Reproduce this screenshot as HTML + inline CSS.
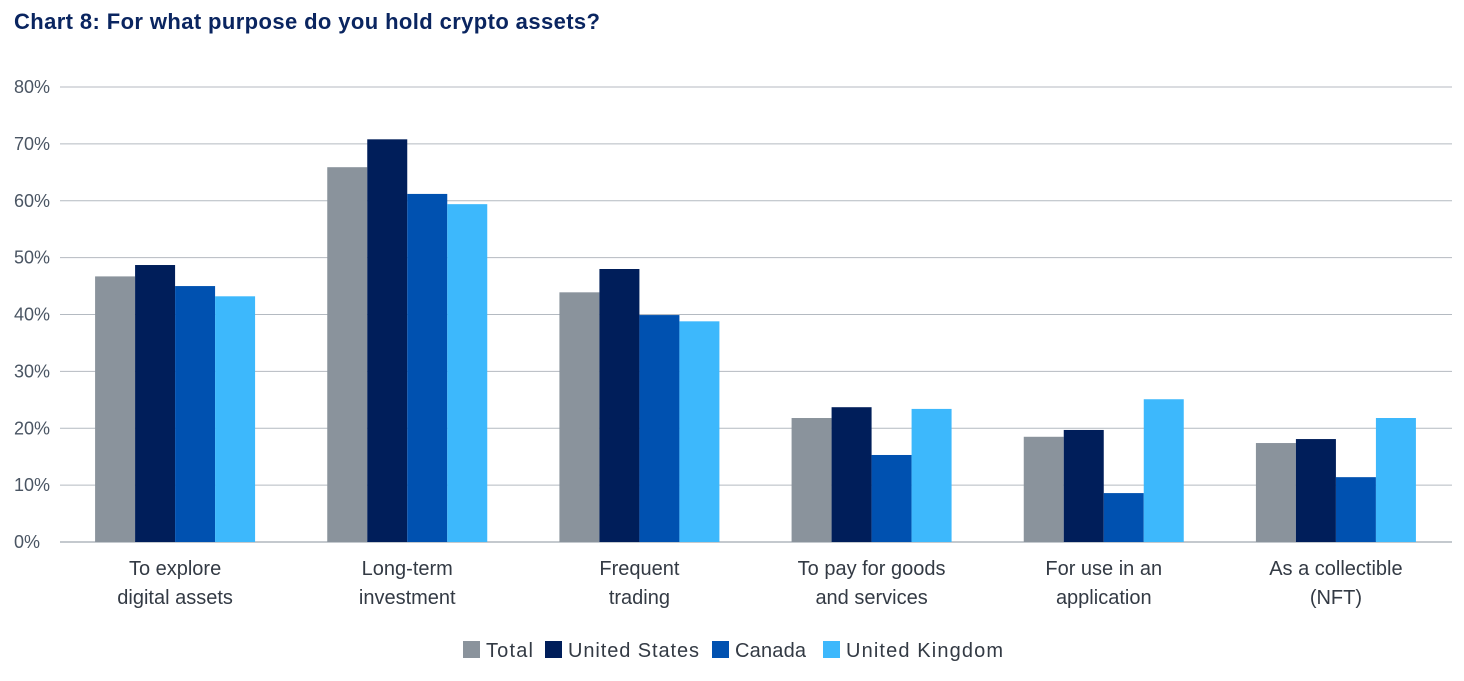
<!DOCTYPE html>
<html><head><meta charset="utf-8"><style>
body{margin:0;background:#fff;width:1464px;height:676px;overflow:hidden;font-family:"Liberation Sans",sans-serif}
</style></head><body>
<svg id="chart" width="1464" height="676" xmlns="http://www.w3.org/2000/svg">
<text x="14" y="29" font-size="22" font-weight="bold" fill="#0a2560" font-family="Liberation Sans, sans-serif" textLength="586" lengthAdjust="spacing">Chart 8: For what purpose do you hold crypto assets?</text>
<g id="grid"></g><g id="bars"></g><g id="xlabels"></g><g id="legend"></g>
</svg>
<script>
const categories=[["To explore","digital assets"],["Long-term","investment"],["Frequent","trading"],["To pay for goods","and services"],["For use in an","application"],["As a collectible","(NFT)"]];
const seriesNames=["Total","United States","Canada","United Kingdom"];
const total=[46.7,65.9,43.9,21.8,18.5,17.4];
const us=[48.7,70.8,48.0,23.7,19.7,18.1];
const canada=[45.0,61.2,39.9,15.3,8.6,11.4];
const uk=[43.2,59.4,38.8,23.4,25.1,21.8];
const ticks=[0,10,20,30,40,50,60,70,80];
const colors=["#8a939c","#001e5a","#0051b0","#3db8fc"];
const series=[total,us,canada,uk];
const NS="http://www.w3.org/2000/svg";
const x0=59,x1=1452,y0=542,y80=87;
const y=v=>y0-(v/80)*(y0-y80);
const gw=(x1-x0)/categories.length;
const bw=40;
function mk(tag,attrs,parent){const e=document.createElementNS(NS,tag);for(const k in attrs)e.setAttribute(k,attrs[k]);parent.appendChild(e);return e;}
const grid=document.getElementById('grid');
ticks.forEach(t=>{
 const l=mk('line',{x1:60,x2:x1,y1:y(t),y2:y(t),stroke:t===0?'#8a939c':'#b4bac1','stroke-width':1},grid);
 
 
 const tx=mk('text',{x:14,y:y(t)+6,'font-size':18,fill:'#4a5563'},grid);
 tx.textContent=t+'%';
 
 
});
const bars=document.getElementById('bars');
categories.forEach((c,i)=>{
 const cx=x0+gw*(i+0.5);
 series.forEach((s,j)=>{
  const r=mk('rect',{x:cx-2*bw+j*bw,y:y(s[i]),width:bw,height:y0-y(s[i]),fill:colors[j]},bars);
  
  
 });
 c.forEach((line,k)=>{
  const t=mk('text',{x:cx,y:575+k*29,'font-size':20,fill:'#333a44','text-anchor':'middle'},document.getElementById('xlabels'));
  t.textContent=line;
  
  
 });
});
const lg=document.getElementById('legend');
const lx=[463,545,712,823];
const lw=[47,131,71,157];
seriesNames.forEach((n,j)=>{
 const r=mk('rect',{x:lx[j],y:641,width:17,height:17,fill:colors[j]},lg);
 
 
 const t=mk('text',{x:lx[j]+23,y:657,'font-size':20,fill:'#333a44',textLength:lw[j],lengthAdjust:'spacing'},lg);
 t.textContent=n;
 
 
});
</script>
</body></html>
